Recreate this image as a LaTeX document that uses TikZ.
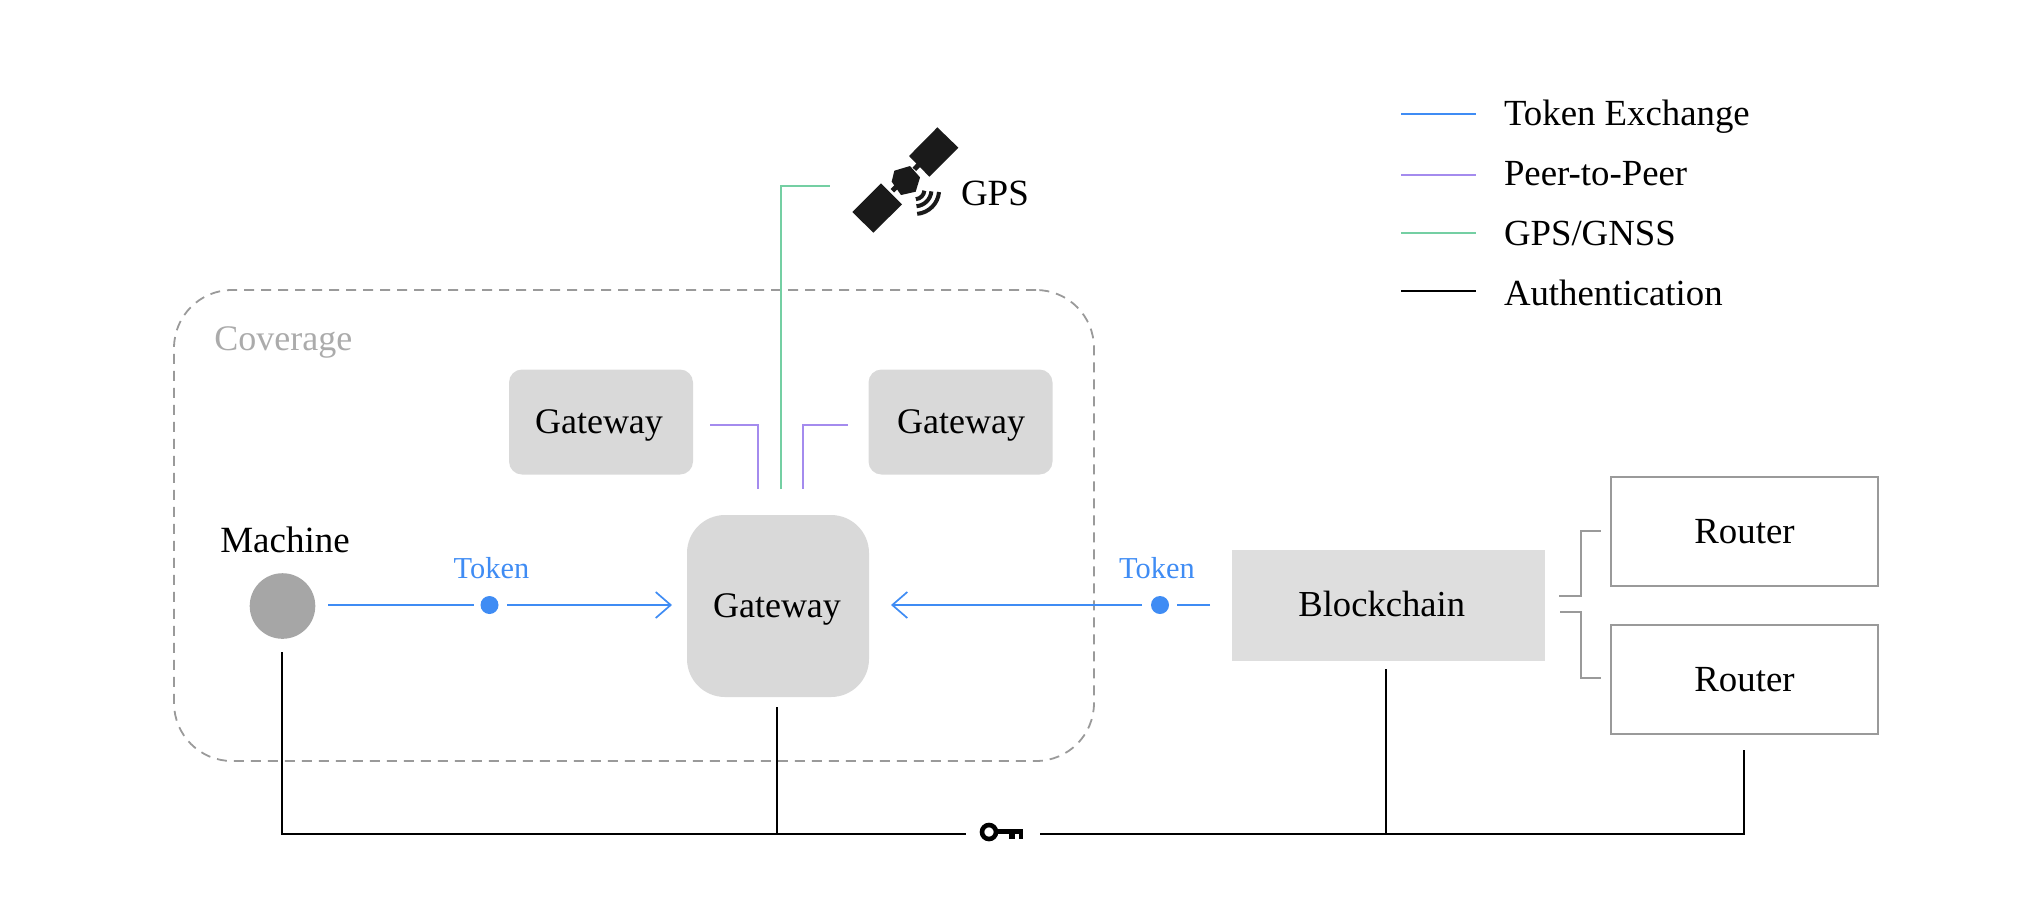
\documentclass[tikz,border=0pt]{standalone}
\usepackage{fontspec}
\setmainfont{Liberation Serif}
\usetikzlibrary{arrows.meta}
\definecolor{tokblue}{HTML}{3F8CF4}
\definecolor{ppurple}{HTML}{A48BEE}
\definecolor{gpsgreen}{HTML}{74CFA3}
\definecolor{gwfill}{HTML}{D9D9D9}
\definecolor{bcfill}{HTML}{DEDEDE}
\definecolor{edgegray}{HTML}{9A9A9A}
\definecolor{satblack}{HTML}{1A1A1A}
\newcommand{\nudged}[2]{\raisebox{-5.5pt}[0pt][0pt]{\kern #1\relax #2\kern -#1\relax}}
\tikzset{
  x=0.5pt,y=-0.5pt,
  boxbase/.style={inner sep=0pt,outer sep=0pt,font=\fontsize{18}{20}\selectfont,text=black},
  gwbox/.style={boxbase,fill=gwfill,minimum width=92pt,minimum height=52.5pt,rounded corners=6.5pt},
  hubbox/.style={boxbase,fill=gwfill,minimum width=91pt,minimum height=91pt,rounded corners=19pt},
  chainbox/.style={boxbase,font=\fontsize{18.3}{20}\selectfont,fill=bcfill,minimum width=156.5pt,minimum height=55.5pt},
  routerbox/.style={boxbase,font=\fontsize{18.4}{20}\selectfont,draw=edgegray,line width=1.1pt,minimum width=133.5pt,minimum height=54.5pt},
  plainlabel/.style={inner sep=0pt,outer sep=0pt,font=\fontsize{18.5}{20}\selectfont,text=black},
  legendlabel/.style={plainlabel,font=\fontsize{18.4}{20}\selectfont,anchor=base west},
  toklabel/.style={inner sep=0pt,font=\fontsize{15.2}{17}\selectfont,text=tokblue},
  tokdot/.style={circle,fill=tokblue,inner sep=0pt,minimum size=9pt},
  tokline/.style={draw=tokblue,line width=0.85pt},
  tokarrow/.style={tokline,-{Straight Barb[length=7.5pt,width=13pt,line width=0.85pt]}},
  peerline/.style={draw=ppurple,line width=0.85pt},
  gnssline/.style={draw=gpsgreen,line width=0.9pt},
  authline/.style={draw=black,line width=0.8pt},
  linkline/.style={draw=edgegray,line width=0.85pt},
  satwave/.style={draw=satblack,line width=2pt},
  satneck/.style={draw=satblack,line width=2.5pt},
}
\begin{document}
\begin{tikzpicture}
\useasboundingbox (0,0) rectangle (2020,912);
% coverage
\node[draw=edgegray,dash pattern=on 5pt off 3.5pt,line width=0.9pt,rounded corners=29pt,minimum width=460pt,minimum height=235.5pt,inner sep=0pt] (cover) at (634,525.5) {};
\node[inner sep=0pt,anchor=base west,font=\fontsize{18}{20}\selectfont,text=black!33] (covlabel) at (214,350) {Coverage};
% gateways
\node[gwbox] (gwl) at (601,422) {\nudged{-1pt}{Gateway}};
\node[gwbox] (gwr) at (960.5,422) {\nudged{0.3pt}{Gateway}};
\node[hubbox] (hub) at (778,606) {\nudged{-0.5pt}{Gateway}};
\node[chainbox] (chain) at (1388.5,605.5) {\nudged{-3.4pt}{Blockchain}};
\node[routerbox] (r1) at (1744.5,531.5) {Router};
\node[routerbox] (r2) at (1744.5,679.5) {Router};
% machine
\node[circle,fill=black!35,inner sep=0pt,minimum size=32.8pt] (mach) at (282.5,606) {};
\node[plainlabel] (machlabel) at (285,540) {Machine};
% token
\node[tokdot] (dotl) at (489.5,605) {};
\node[tokdot] (dotr) at (1160,605) {};
\node[toklabel] (tokl) at (491.5,568) {Token};
\node[toklabel] (tokr) at (1157,568) {Token};
\coordinate (mo) at (328,605);
\coordinate (dl1) at (474,605);
\coordinate (dl2) at (507,605);
\coordinate (hl) at (672,605);
\coordinate (hr) at (891,605);
\coordinate (dr1) at (1142,605);
\coordinate (dr2) at (1177,605);
\coordinate (cl) at (1210,605);
\draw[tokline] (mo) -- (dl1);
\draw[tokarrow] (dl2) -- (hl);
\draw[tokarrow] (dr1) -- (hr);
\draw[tokline] (cl) -- (dr2);
% peer
\coordinate (pl0) at (710,425);
\coordinate (pl1) at (758,489);
\coordinate (pr0) at (848,425);
\coordinate (pr1) at (803,489);
\draw[peerline] (pl0) -| (pl1);
\draw[peerline] (pr0) -| (pr1);
% gps
\coordinate (g0) at (781,489);
\coordinate (g1) at (830,186);
\draw[gnssline] (g0) |- (g1);
% satellite
\begin{scope}[shift={(800,100)},x=0.1667pt,y=-0.1667pt]
\fill[satblack] (412,82) -- (475,143) -- (388,230) -- (327,168) -- cycle;
\fill[satblack] (243,250) -- (306,313) -- (220,398) -- (157,336) -- cycle;
\fill[satblack] (283,212) -- (330,198) -- (360,232) -- (347,275) -- (303,285) -- (275,245) -- cycle;
\draw[satneck] (343,208) -- (358,192);
\draw[satneck] (277,272) -- (292,257);
\draw[satwave] (373,272) arc[start angle=5,end angle=85,radius=28];
\draw[satwave] (394,274) arc[start angle=5,end angle=85,radius=49];
\draw[satwave] (417,276) arc[start angle=5,end angle=85,radius=72];
\end{scope}
\node[plainlabel,anchor=base west] (gpslabel) at (961,205) {GPS};
% router links
\coordinate (l1a) at (1559,596);
\coordinate (l1b) at (1601,531);
\coordinate (l2a) at (1560,612);
\coordinate (l2b) at (1601,678);
\coordinate (l1m) at (1581,596);
\coordinate (l2m) at (1581,612);
\draw[linkline] (l1a) -- (l1m) |- (l1b);
\draw[linkline] (l2a) -- (l2m) |- (l2b);
% auth
\coordinate (am) at (282,652);
\coordinate (ag) at (777,707);
\coordinate (ab) at (1386,669);
\coordinate (ar) at (1744,750);
\coordinate (kl) at (966,834);
\coordinate (kr) at (1040,834);
\draw[authline] (am) |- (kl);
\draw[authline] (ag) -- (ag |- kl);
\draw[authline] (ab) -- (ab |- kr);
\draw[authline] (ar) |- (kr);
% key
\draw[black,line width=2.3pt] (989,832) circle (7);
\fill[black] (996,829) rectangle (1023,834);
\fill[black] (1009,833) rectangle (1014.5,839);
\fill[black] (1018.5,833) rectangle (1023,839);
% legend
\coordinate (le1) at (1401,114); \coordinate (le1b) at (1476,114);
\coordinate (le2) at (1401,175); \coordinate (le2b) at (1476,175);
\coordinate (le3) at (1401,233); \coordinate (le3b) at (1476,233);
\coordinate (le4) at (1401,291); \coordinate (le4b) at (1476,291);
\draw[tokline] (le1) -- (le1b);
\draw[peerline] (le2) -- (le2b);
\draw[gnssline] (le3) -- (le3b);
\draw[authline] (le4) -- (le4b);
\node[legendlabel] (lt1) at (1504,125) {Token Exchange};
\node[legendlabel] (lt2) at (1504,185) {Peer-to-Peer};
\node[legendlabel] (lt3) at (1504,245) {GPS/GNSS};
\node[legendlabel] (lt4) at (1504,305) {Authentication};
\end{tikzpicture}
\end{document}
